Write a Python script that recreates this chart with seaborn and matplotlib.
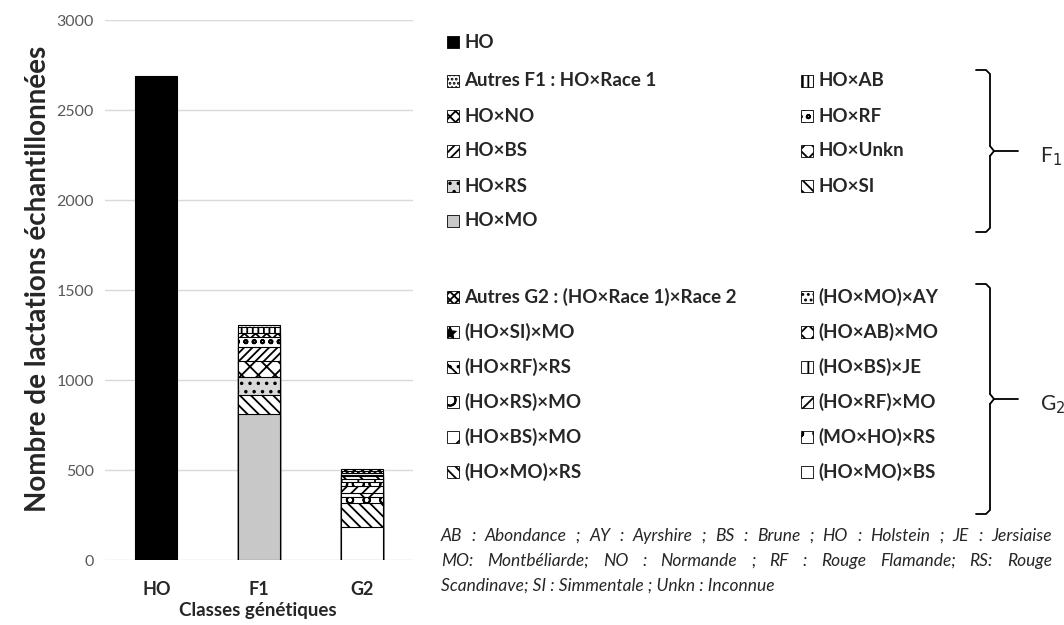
import matplotlib
matplotlib.use('Agg')
import matplotlib.pyplot as plt
from matplotlib.patches import Rectangle
import seaborn as sns

# data: stacked segments, bottom to top
classes = ['HO', 'F1', 'G2']

ho_labels = ['HO']
ho_values = [2690]

f1_labels = ['HO×MO', 'HO×SI', 'HO×RS', 'HO×Unkn', 'HO×BS', 'HO×RF', 'HO×NO', 'HO×AB',
             'Autres F1 : HO×Race 1']
f1_values = [811, 106, 98, 92, 78, 56, 22, 30, 13]

g2_labels = ['(HO×MO)×BS', '(HO×MO)×RS', '(MO×HO)×RS', '(HO×BS)×MO', '(HO×RF)×MO',
             '(HO×RS)×MO', '(HO×BS)×JE', '(HO×RF)×RS', '(HO×AB)×MO', '(HO×SI)×MO',
             '(HO×MO)×AY', 'Autres G2 : (HO×Race 1)×Race 2']
g2_values = [185, 130, 35, 25, 35, 25, 15, 15, 10, 10, 8, 11]

# (facecolor, hatch) per segment
styles = {
    'HO': ('black', None),
    'HO×MO': ('#c8c8c8', None), 'HO×SI': ('white', '\\\\\\'), 'HO×RS': ('#d9d9d9', '..'),
    'HO×Unkn': ('white', 'xx'), 'HO×BS': ('white', '////'), 'HO×RF': ('white', 'oo'),
    'HO×NO': ('white', 'xxx'), 'HO×AB': ('white', '|||'), 'Autres F1 : HO×Race 1': ('white', '....'),
    '(HO×MO)×BS': ('white', None), '(HO×MO)×RS': ('white', '\\\\\\'), '(MO×HO)×RS': ('white', 'o'),
    '(HO×BS)×MO': ('white', 'x'), '(HO×RF)×MO': ('white', '///'), '(HO×RS)×MO': ('white', 'O'),
    '(HO×BS)×JE': ('white', '+'), '(HO×RF)×RS': ('white', '\\\\..'), '(HO×AB)×MO': ('white', 'xx'),
    '(HO×SI)×MO': ('white', '*'), '(HO×MO)×AY': ('white', '...'),
    'Autres G2 : (HO×Race 1)×Race 2': ('white', 'xxxx'),
}

notes = ['AB : Abondance ; AY : Ayrshire ; BS : Brune ; HO : Holstein ; JE : Jersiaise',
         'MO: Montbéliarde; NO : Normande ; RF : Rouge Flamande; RS: Rouge',
         'Scandinave; SI : Simmentale ; Unkn : Inconnue']

sns.set_style('white')
plt.rcParams['font.family'] = ['Lato', 'DejaVu Sans']
plt.rcParams['hatch.linewidth'] = 1.3

fig = plt.figure(figsize=(10.64, 6.25), dpi=100)
ax = fig.add_axes([105 / 1064, 65 / 625, 308 / 1064, 540 / 625])

# stacked bars drawn as cumulative totals, top segment first
stacks = [(classes[0], ho_labels, ho_values),
          (classes[1], f1_labels, f1_values),
          (classes[2], g2_labels, g2_values)]
for cls, labs, vals in stacks:
    cum = []
    s = 0
    for v in vals:
        s += v
        cum.append(s)
    for lab, top in reversed(list(zip(labs, cum))):
        n0 = len(ax.patches)
        sns.barplot(x=[cls], y=[top], order=classes, width=0.41, ax=ax,
                    color=styles[lab][0], saturation=1, edgecolor='black', linewidth=0.8)
        for p in ax.patches[n0:]:
            p.set_facecolor(styles[lab][0])
            if styles[lab][1]:
                p.set_hatch(styles[lab][1])

ax.set_ylim(0, 3000)
ax.set_xlim(-0.5, 2.5)
ax.set_yticks(range(0, 3001, 500))
ax.yaxis.grid(True, color='#d9d9d9', linewidth=1)
ax.set_axisbelow(True)
for sp in ax.spines.values():
    sp.set_visible(False)
ax.tick_params(axis='y', colors='#595959', labelsize=11.5, length=0, pad=8)
ax.tick_params(axis='x', length=0, pad=15)
for t in ax.get_xticklabels():
    t.set_fontweight('bold')
    t.set_fontsize(13)
ax.set_xlabel('Classes génétiques', fontsize=13.5, fontweight='bold')
ax.xaxis.set_label_coords(0.497, -0.078)
ax.set_ylabel('Nombre de lactations échantillonnées', fontsize=20, fontweight='bold')
ax.yaxis.set_label_coords(-0.175, 0.52)

# overlay in pixel coordinates for legend, notes and braces
ov = fig.add_axes([0, 0, 1, 1])
ov.set_xlim(0, 1064)
ov.set_ylim(625, 0)
ov.axis('off')


def entry(x, y, lab, text=None):
    fc, h = styles[lab]
    ov.add_patch(Rectangle((x, y - 6.5), 12, 12, facecolor=fc, edgecolor='black',
                           linewidth=0.6, hatch=h))
    ov.text(x + 17, y, text or lab, fontsize=13.5, fontweight='bold', va='center', ha='left')


entry(447, 42, 'HO')

f1_col1 = ['Autres F1 : HO×Race 1', 'HO×NO', 'HO×BS', 'HO×RS', 'HO×MO']
f1_col2 = ['HO×AB', 'HO×RF', 'HO×Unkn', 'HO×SI']
g2_col1 = ['Autres G2 : (HO×Race 1)×Race 2', '(HO×SI)×MO', '(HO×RF)×RS', '(HO×RS)×MO',
           '(HO×BS)×MO', '(HO×MO)×RS']
g2_col2 = ['(HO×MO)×AY', '(HO×AB)×MO', '(HO×BS)×JE', '(HO×RF)×MO', '(MO×HO)×RS', '(HO×MO)×BS']

for i, lab in enumerate(f1_col1):
    entry(447, 81 + 35 * i, lab)
for i, lab in enumerate(f1_col2):
    entry(801, 81 + 35 * i, lab)
for i, lab in enumerate(g2_col1):
    entry(447, 297 + 35 * i, lab)
for i, lab in enumerate(g2_col2):
    entry(801, 297 + 35 * i, lab)


def brace(y0, y1, x=990):
    ym = (y0 + y1) / 2
    ov.plot([x - 14, x - 4, x, x], [y0, y0, y0 + 4, ym - 5], color='black', lw=1.3)
    ov.plot([x, x + 4, x], [ym - 5, ym, ym + 5], color='black', lw=1.3)
    ov.plot([x + 4, x + 28], [ym, ym], color='black', lw=1.3)
    ov.plot([x, x, x - 4, x - 14], [ym + 5, y1 - 4, y1, y1], color='black', lw=1.3)
    return ym


m1 = brace(70, 232)
ov.text(1040, m1 + 6, 'F$_1$', fontsize=15, va='center', ha='left')
m2 = brace(284, 514)
ov.text(1040, m2 + 6, 'G$_2$', fontsize=15, va='center', ha='left')

# justified note lines (last line left aligned)
renderer = fig.canvas.get_renderer()
x_left, x_right = 441, 1052
for i, line in enumerate(notes):
    y = 536 + 25 * i
    if i == len(notes) - 1:
        ov.text(x_left, y, line, fontsize=12.5, fontstyle='italic', va='center', ha='left')
        continue
    words = line.split(' ')
    arts = [ov.text(0, y, w, fontsize=12.5, fontstyle='italic', va='center', ha='left')
            for w in words]
    widths = [a.get_window_extent(renderer).width for a in arts]
    gap = (x_right - x_left - sum(widths)) / (len(words) - 1)
    xc = x_left
    for a, w in zip(arts, widths):
        a.set_x(xc)
        xc += w + gap

fig.savefig('out.png', dpi=100)
